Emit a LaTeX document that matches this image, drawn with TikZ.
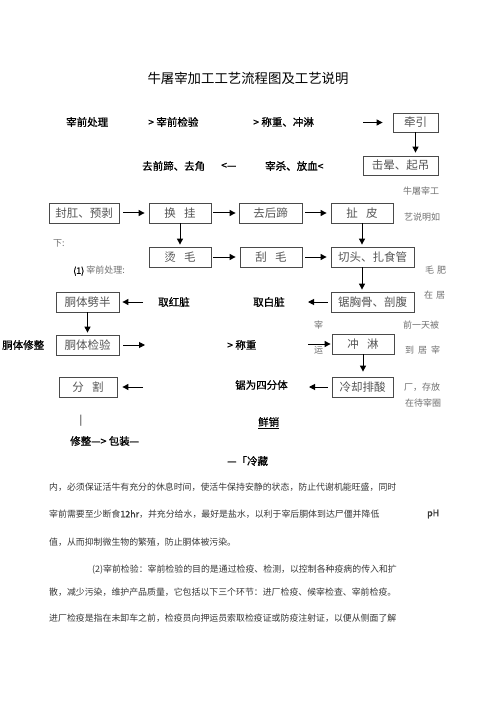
\documentclass[tikz,border=0pt]{standalone}
\usepackage{fontspec}
\newfontfamily\cjk{Noto Sans CJK SC}
\newfontfamily\cjkb{Noto Sans CJK SC}[FakeBold=1]
\usetikzlibrary{arrows.meta}
\definecolor{boxtxt}{HTML}{555555}
\definecolor{sidetxt}{HTML}{707070}
\definecolor{paratxt}{HTML}{383838}
\definecolor{boxline}{HTML}{4A4A4A}
\begin{document}
\begin{tikzpicture}[x=1pt,y=-1pt,
  box/.style={draw=boxline, line width=0.8pt, inner sep=0pt, minimum height=20pt,
    font=\cjk\fontsize{11.5}{12}\selectfont, text=boxtxt},
  lbl/.style={font=\cjkb\fontsize{10.5}{12}\selectfont, text=black, inner sep=0pt, anchor=west},
  side/.style={font=\cjk\fontsize{9}{10}\selectfont, text=sidetxt, inner sep=0pt, anchor=west},
  para/.style={font=\cjk\fontsize{8.9}{10}\selectfont, text=paratxt, inner sep=0pt, anchor=west},
  arr/.style={-{Triangle[length=6pt,width=6pt]}, line width=1pt},
]
\fill[white] (0,0) rectangle (500,708);
\useasboundingbox (0,0) rectangle (500,708);

% title
\node[font=\cjk\fontsize{13.4}{15}\selectfont, inner sep=0pt] (title) at (248,78) {牛屠宰加工工艺流程图及工艺说明};

% row 1
\node[lbl] (t1) at (66,122) {宰前处理};
\node[lbl] (t2) at (148,122) {>\ 宰前检验};
\node[lbl] (t3) at (253,122) {>\ 称重、冲淋};
\coordinate (a1) at (363,122.5);
\node[box, minimum width=45pt, minimum height=19pt] (qy) at (415.5,122.5) {牵引};
\draw[arr, shorten >=10pt] (a1) -- (qy.west);

% row 2
\node[box, minimum width=75pt, minimum height=19pt] (jy) at (400.5,165.5) {击晕、起吊};
\draw[arr, shorten >=3pt] (qy.south) -- (qy.south |- jy.north);
\node[lbl] (t4) at (142,166) {去前蹄、去角};
\node[lbl] (t5) at (221,166) {<—};
\node[lbl] (t6) at (265,166) {宰杀、放血<};

% row 3
\node[box, minimum width=70pt] (fg) at (84,213) {封肛、预剥};
\node[box, minimum width=62pt] (hg) at (180,213) {换\hspace{0.7em}挂};
\node[box, minimum width=63pt] (qh) at (270.5,213) {去后蹄};
\node[box, minimum width=62pt] (cp) at (362,213) {扯\hspace{0.7em}皮};
\draw[arr, shorten <=4pt, shorten >=4pt] (fg.east) -- (hg.west);
\draw[arr, shorten <=2pt, shorten >=3pt] (hg.east) -- (qh.west);
\draw[arr, shorten <=3pt, shorten >=4pt] (qh.east) -- (cp.west);

% row 4
\node[box, minimum width=62pt] (tm) at (180,257) {烫\hspace{0.7em}毛};
\node[box, minimum width=62pt] (gm) at (271,257) {刮\hspace{0.7em}毛};
\node[box, minimum width=83pt] (qt) at (372.5,257) {切头、扎食管};
\draw[arr, shorten >=2pt] (hg.south) -- (tm.north);
\draw[arr, shorten >=2pt] (cp.south) -- (cp.south |- qt.north);
\draw[arr, shorten <=2pt, shorten >=4pt] (tm.east) -- (gm.west);
\draw[arr, shorten <=3pt, shorten >=4pt] (gm.east) -- (qt.west);

% row 5
\node[box, minimum width=63pt] (pb) at (87.5,302) {胴体劈半};
\node[box, minimum width=83pt] (jx) at (372.5,302) {锯胸骨、剖腹};
\draw[arr, shorten >=2pt] (qt.south -| cp.south) -- (jx.north -| cp.south);
\coordinate (a5) at (143,302);
\draw[arr, shorten >=3pt] (a5) -- (pb.east);
\node[lbl] (t7) at (158,302) {取红脏};
\node[lbl] (t8) at (253,302) {取白脏};
\coordinate (a6) at (308,302);
\draw[arr, shorten <=3pt] (jx.west) -- (a6);

% row 6
\node[lbl] (t9) at (2,345) {胴体修整};
\node[box, minimum width=63pt] (jv) at (87.5,345) {胴体检验};
\draw[arr, shorten >=2pt] (pb.south) -- (jv.north);
\coordinate (a7) at (145,345);
\draw[arr, shorten <=4pt] (jv.east) -- (a7);
\node[lbl] (t10) at (227,345) {>\ 称重};
\coordinate (a8) at (308,344);
\node[box, minimum width=62pt] (cl) at (363,344) {冲\hspace{0.7em}淋};
\draw[arr, shorten >=1pt] (a8) -- (cl.west);

% row 7
\node[box, minimum width=58pt] (fe) at (88,387) {分\hspace{0.7em}割};
\coordinate (a9) at (143,387);
\draw[arr, shorten >=5pt] (a9) -- (fe.east);
\node[lbl] (t11) at (235,385) {锯为四分体};
\node[box, minimum width=61pt] (ls) at (362.5,387) {冷却排酸};
\draw[arr, shorten >=5pt] (cl.south) -- (cl.south |- ls.north);
\coordinate (a10) at (309,387);
\draw[arr, shorten <=4pt] (ls.west) -- (a10);

% side text
\node[side] (s1) at (403,191) {牛屠宰工};
\node[side] (s2) at (404,217) {艺说明如};
\node[side] (s3) at (53,243) {下:};
\node[side] (s4) at (73,271) {\cjkb\color{black}(1)\ \cjk\color{sidetxt}宰前处理:};
\node[side] (s5) at (425,270) {毛\hspace{3pt}肥};
\node[side] (s6) at (424,295) {在\hspace{3pt}居};
\node[side] (s7) at (314,325) {宰};
\node[side] (s8) at (403,325) {前一天被};
\node[side] (s9) at (314,350) {运};
\node[side] (s10) at (405,350) {到\hspace{4pt}居\hspace{4pt}宰};
\node[side] (s11) at (404,387) {厂，存放};
\node[side] (s12) at (405,403) {在待宰圈};

% bottom flow
\node[font=\cjk\fontsize{10}{12}\selectfont, inner sep=0pt] (bar) at (81,421) {|};
\node[lbl] (t12) at (258,423) {\underline{鲜销}};
\node[lbl] (t13) at (70,441) {修整—>\ 包装—};
\node[lbl] (t14) at (227,461) {—「冷藏};

% paragraph
\node[para] (p1) at (49,487) {内，必须保证活牛有充分的休息时间，使活牛保持安静的状态，防止代谢机能旺盛，同时};
\node[para] (p2) at (49,514) {宰前需要至少断食{\cjkb 12hr}，并充分给水，最好是盐水，以利于宰后胴体到达尸僵并降低};
\node[para, font=\cjkb\fontsize{8.9}{10}\selectfont] (p2b) at (427,514) {pH};
\node[para] (p3) at (49,542) {值，从而抑制微生物的繁殖，防止胴体被污染。};
\node[para] (p4) at (92,570) {(2)宰前检验：宰前检验的目的是通过检疫、检测，以控制各种疫病的传入和扩};
\node[para] (p5) at (49,592) {散，减少污染，维护产品质量，它包括以下三个环节：进厂检疫、候宰检查、宰前检疫。};
\node[para] (p6) at (49,618) {进厂检疫是指在未卸车之前，检疫员向押运员索取检疫证或防疫注射证，以便从侧面了解};
\end{tikzpicture}
\end{document}
